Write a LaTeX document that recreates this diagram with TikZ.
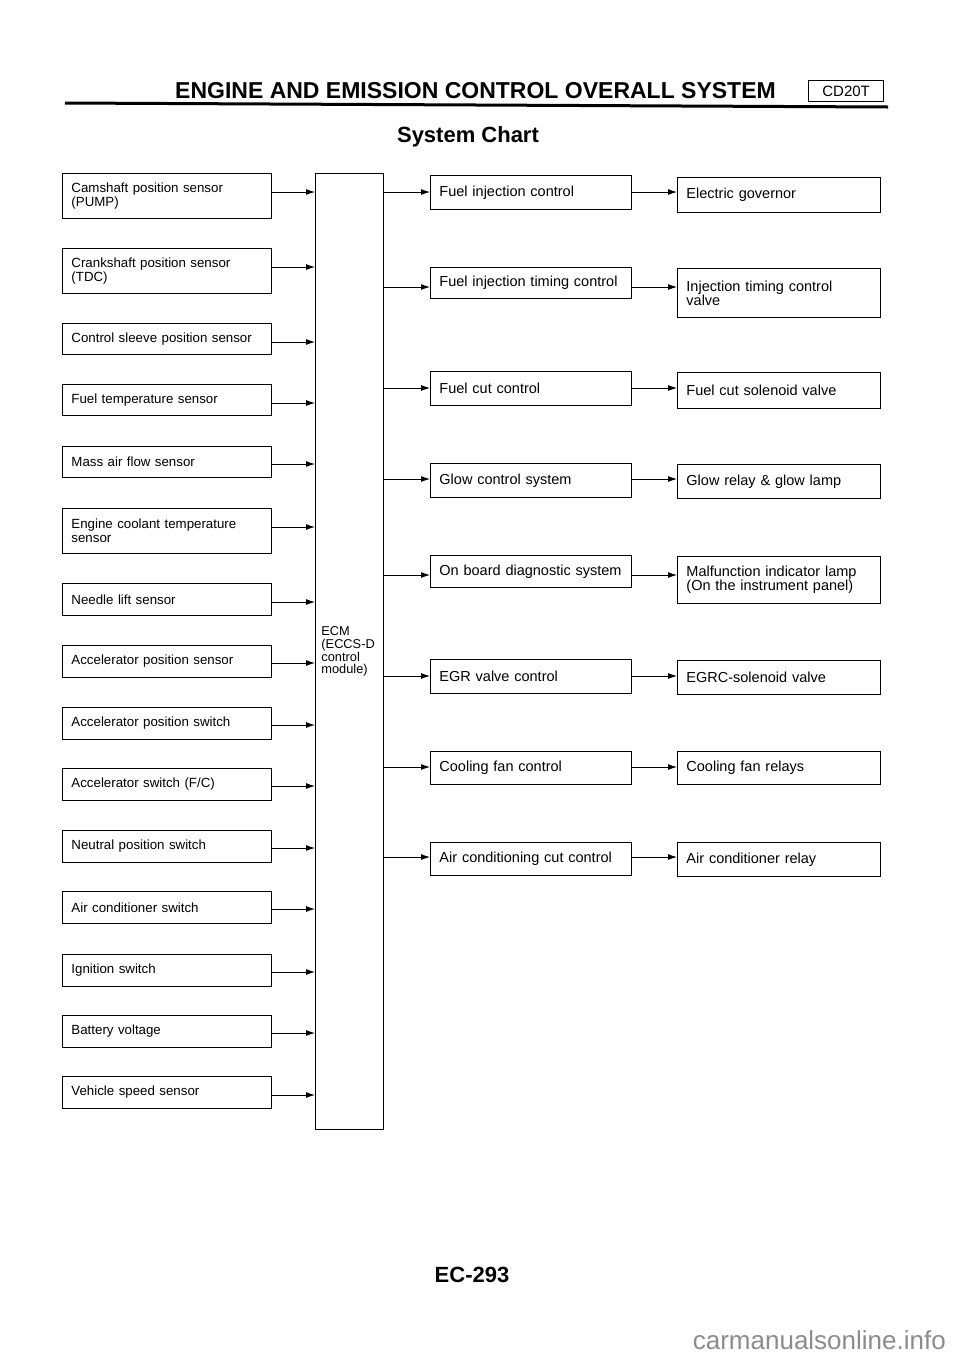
\documentclass[tikz,border=0pt]{standalone}
\usepackage{fontspec}
\setmainfont{Liberation Sans}
\usetikzlibrary{arrows.meta}
\begin{document}
\begin{tikzpicture}[x=1pt,y=-1pt,
  box/.style={draw, line width=0.9pt, inner xsep=9pt, inner ysep=0pt, align=left, anchor=north west},
  lbox/.style={box, text width=191pt, minimum height=#1, font=\fontsize{13.3}{13.6}\selectfont},
  cbox/.style={box, text width=183pt, minimum height=#1, font=\fontsize{14.5}{14}\selectfont},
  obox/.style={box, text width=185pt, minimum height=#1, font=\fontsize{14.5}{14}\selectfont},
  arr/.style={line width=0.9pt, -{Latex[length=9pt,width=6pt]}}
]
\useasboundingbox (0,0) rectangle (960,1358);

% header
\node[anchor=base west, font=\bfseries\fontsize{23}{23}\selectfont, inner sep=0pt] (title) at (175,98) {ENGINE AND EMISSION CONTROL OVERALL SYSTEM};
\node[draw, line width=1.2pt, anchor=west, minimum width=75pt, minimum height=21pt, inner sep=0pt, font=\fontsize{15}{15}\selectfont] (cd) at (808,91) {CD20T};
\draw[line width=3pt] (65,103) -- (888,107);
\node[font=\bfseries\fontsize{22}{22}\selectfont] (sub) at (468,137) {System Chart};

% ECM
\node[draw, line width=0.9pt, anchor=north west, minimum width=68pt, minimum height=956pt, text width=56pt, inner xsep=6pt, align=left, font=\fontsize{12.8}{12.8}\selectfont] (ecm) at (315,173) {ECM\\(ECCS-D\\control\\module)};

% inputs
\node[lbox=45pt] (cam) at (62,173) {Camshaft position sensor\\(PUMP)};
\node[lbox=45pt] (crank) at (62,248) {Crankshaft position sensor\\(TDC)};
\node[lbox=31pt] (sleeve) at (62,323) {Control sleeve position sensor};
\node[lbox=31pt] (ftemp) at (62,384) {Fuel temperature sensor};
\node[lbox=31pt] (maf) at (62,446) {Mass air flow sensor};
\node[lbox=45pt] (ect) at (62,508) {Engine coolant temperature\\sensor};
\node[lbox=32pt] (needle) at (62,583) {Needle lift sensor};
\node[lbox=32pt] (aps) at (62,645) {Accelerator position sensor};
\node[lbox=32pt] (apsw) at (62,707) {Accelerator position switch};
\node[lbox=32pt] (accf) at (62,768) {Accelerator switch (F/C)};
\node[lbox=32pt] (neut) at (62,830) {Neutral position switch};
\node[lbox=32pt] (acsw) at (62,891) {Air conditioner switch};
\node[lbox=32pt] (ign) at (62,954) {Ignition switch};
\node[lbox=32pt] (batt) at (62,1015) {Battery voltage};
\node[lbox=32pt] (vss) at (62,1076) {Vehicle speed sensor};

\foreach \n/\y in {cam/192,crank/267,sleeve/342,ftemp/403,maf/464,ect/527,needle/602,aps/663,apsw/725,accf/786,neut/848,acsw/909,ign/972,batt/1033,vss/1095}
  \draw[arr] (\n.east |- 0,\y) -- (ecm.west |- 0,\y);

% controls
\node[cbox=34pt] (fic) at (430,175) {Fuel injection control};
\node[cbox=31pt] (fitc) at (430,267) {Fuel injection timing control};
\node[cbox=34pt] (fcc) at (430,371) {Fuel cut control};
\node[cbox=34pt] (glow) at (430,463) {Glow control system};
\node[cbox=32pt] (obd) at (430,555) {On board diagnostic system};
\node[cbox=34pt] (egr) at (430,659) {EGR valve control};
\node[cbox=33pt] (cool) at (430,751) {Cooling fan control};
\node[cbox=33pt] (accut) at (430,842) {Air conditioning cut control};

% outputs
\node[obox=35pt] (gov) at (677,177) {Electric governor};
\node[obox=49pt] (itv) at (677,268) {Injection timing control\\valve};
\node[obox=36pt] (fcs) at (677,372) {Fuel cut solenoid valve};
\node[obox=34pt] (grl) at (677,464) {Glow relay \& glow lamp};
\node[obox=47pt] (mil) at (677,556) {Malfunction indicator lamp\\(On the instrument panel)};
\node[obox=34pt] (egrc) at (677,660) {EGRC-solenoid valve};
\node[obox=33pt] (cfr) at (677,751) {Cooling fan relays};
\node[obox=34pt] (acr) at (677,842) {Air conditioner relay};

\foreach \c/\o/\y in {fic/gov/192,fitc/itv/287,fcc/fcs/388,glow/grl/479,obd/mil/575,egr/egrc/676,cool/cfr/767,accut/acr/857}{
  \draw[arr] (ecm.east |- 0,\y) -- (\c.west |- 0,\y);
  \draw[arr] (\c.east |- 0,\y) -- (\o.west |- 0,\y);
}

% footer
\node[font=\bfseries\fontsize{22}{22}\selectfont] (page) at (472,1275) {EC-293};
\node[anchor=base east, text=black!45, font=\fontsize{26}{26}\selectfont, inner sep=0pt] (wm) at (946,1349) {carmanualsonline.info};
\end{tikzpicture}
\end{document}
